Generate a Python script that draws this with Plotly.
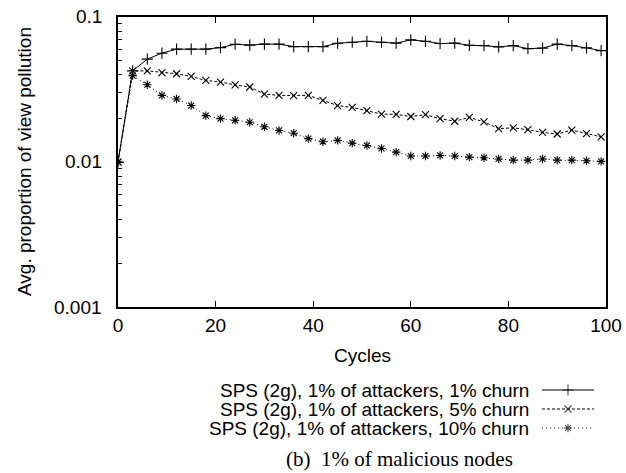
import math
import plotly.graph_objects as go

# ---- data ----
cycles = [0, 3, 6, 9, 12, 15, 18, 21, 24, 27, 30, 33, 36, 39, 42, 45, 48, 51,
          54, 57, 60, 63, 66, 69, 72, 75, 78, 81, 84, 87, 90, 93, 96, 99]
churn1 = [0.0100, 0.0425, 0.0512, 0.0563, 0.0600, 0.0600, 0.0600, 0.0615, 0.0649,
          0.0640, 0.0650, 0.0650, 0.0625, 0.0625, 0.0625, 0.0659, 0.0670, 0.0680,
          0.0670, 0.0660, 0.0695, 0.0680, 0.0656, 0.0660, 0.0638, 0.0635, 0.0622,
          0.0635, 0.0605, 0.0610, 0.0650, 0.0635, 0.0612, 0.0586]
churn5 = [0.0100, 0.0425, 0.0425, 0.0414, 0.0406, 0.0389, 0.0365, 0.0356, 0.0340,
          0.0329, 0.0294, 0.0288, 0.0287, 0.0288, 0.0266, 0.0245, 0.0238, 0.0226,
          0.0214, 0.0213, 0.0206, 0.0212, 0.0199, 0.0191, 0.0203, 0.0189, 0.0170,
          0.0172, 0.0167, 0.0160, 0.0156, 0.0166, 0.0157, 0.0149]
churn10 = [0.0100, 0.0394, 0.0341, 0.0288, 0.0272, 0.0245, 0.0209, 0.0199, 0.0194,
           0.0188, 0.0175, 0.0165, 0.0158, 0.0145, 0.0138, 0.0141, 0.0135, 0.0130,
           0.0124, 0.0117, 0.0110, 0.0110, 0.0111, 0.0110, 0.0108, 0.0107, 0.0105,
           0.0103, 0.0103, 0.0105, 0.0103, 0.0103, 0.0102, 0.0101]
series_names = ["SPS (2g), 1% of attackers, 1% churn",
                "SPS (2g), 1% of attackers, 5% churn",
                "SPS (2g), 1% of attackers, 10% churn"]
ytick_vals = [0.001, 0.01, 0.1]
ytick_text = ["0.001", "0.01", "0.1"]
yminor_vals = [0.002, 0.003, 0.004, 0.005, 0.006, 0.007, 0.008, 0.009,
               0.02, 0.03, 0.04, 0.05, 0.06, 0.07, 0.08, 0.09]
xtick_vals = [0, 20, 40, 60, 80, 100]
x_title = "Cycles"
y_title = "Avg. proportion of view pollution"
caption = "(b) \u00a01% of malicious nodes"

# ---- style ----
W, H = 626, 473
PL, PR, PT, PB = 118, 606, 17, 307
SANS = "Liberation Sans, Arial, sans-serif"
SERIF = "Liberation Serif, Times New Roman, serif"
FS = 19

styles = [
    dict(dash="solid", symbol="cross-thin", size=8),
    dict(dash="3px,2px", symbol="x-thin", size=7),
    dict(dash="1px,3px", symbol="asterisk-open", size=7),
]
data = [churn1, churn5, churn10]

fig = go.Figure()
for ys, st in zip(data, styles):
    fig.add_trace(go.Scatter(
        x=cycles, y=ys, mode="lines+markers", showlegend=False,
        line=dict(color="black", width=1, dash=st["dash"]),
        marker=dict(symbol=st["symbol"], size=st["size"], color="black",
                    line=dict(color="black", width=1.1)),
        xaxis="x", yaxis="y"))

# legend (text left, sample right) on a full-figure pixel axis
leg_rows = [390, 409, 428]
for name, st, ry in zip(series_names, styles, leg_rows):
    fig.add_trace(go.Scatter(
        x=[542, 568, 594], y=[ry, ry, ry], mode="lines+markers", showlegend=False,
        line=dict(color="black", width=1, dash=st["dash"]),
        marker=dict(symbol=st["symbol"], size=[0, st["size"], 0], color="black",
                    line=dict(color="black", width=1.1)),
        xaxis="x2", yaxis="y2", hoverinfo="skip"))
    fig.add_annotation(x=531, y=ry, xref="x2", yref="y2", text=name,
                       showarrow=False, xanchor="right", yanchor="middle",
                       font=dict(family=SANS, size=FS, color="black"))

# y tick labels placed with the log axis, further from the axis line
for v, t in zip(ytick_vals, ytick_text):
    fig.add_annotation(x=PL - 14, y=math.log10(v), xref="x2", yref="y", text=t,
                       showarrow=False, xanchor="right", yanchor="middle",
                       font=dict(family=SANS, size=FS, color="black"))

fig.add_annotation(x=(PL + PR) / 2, y=355, xref="x2", yref="y2", text=x_title,
                   showarrow=False, xanchor="center", yanchor="middle",
                   font=dict(family=SANS, size=FS, color="black"))
fig.add_annotation(x=24, y=(PT + PB) / 2, xref="x2", yref="y2", text=y_title,
                   showarrow=False, textangle=-90, xanchor="center", yanchor="middle",
                   font=dict(family=SANS, size=FS, color="black"))
fig.add_annotation(x=399, y=459, xref="x2", yref="y2", text=caption,
                   showarrow=False, xanchor="center", yanchor="middle",
                   font=dict(family=SERIF, size=21, color="black"))

fig.update_layout(
    width=W, height=H, margin=dict(l=0, r=0, t=0, b=0),
    paper_bgcolor="white", plot_bgcolor="rgba(0,0,0,0)",
    xaxis=dict(domain=[PL / W, PR / W], range=[0, 100], tickvals=xtick_vals,
               ticks="inside", ticklen=6, tickwidth=1, tickcolor="black",
               showline=True, linecolor="black", linewidth=1.5, mirror="ticks",
               showgrid=False, zeroline=False, automargin=False, anchor="y",
               tickfont=dict(family=SANS, size=FS, color="black")),
    yaxis=dict(domain=[(H - PB) / H, (H - PT) / H], type="log", range=[-3, -1],
               tickvals=ytick_vals, showticklabels=False,
               ticks="inside", ticklen=6, tickwidth=1, tickcolor="black",
               minor=dict(ticks="inside", ticklen=4, tickcolor="black",
                          tickmode="array", tickvals=yminor_vals, showgrid=False),
               showline=True, linecolor="black", linewidth=1.5, mirror=True,
               showgrid=False, zeroline=False, automargin=False, anchor="x",
               tickfont=dict(family=SANS, size=FS, color="black")),
    xaxis2=dict(domain=[0, 1], range=[0, W], visible=False, anchor="y2",
                fixedrange=True, showgrid=False, zeroline=False),
    yaxis2=dict(domain=[0, 1], range=[H, 0], visible=False, anchor="x2",
                fixedrange=True, showgrid=False, zeroline=False),
)

fig.write_html("out.html")
